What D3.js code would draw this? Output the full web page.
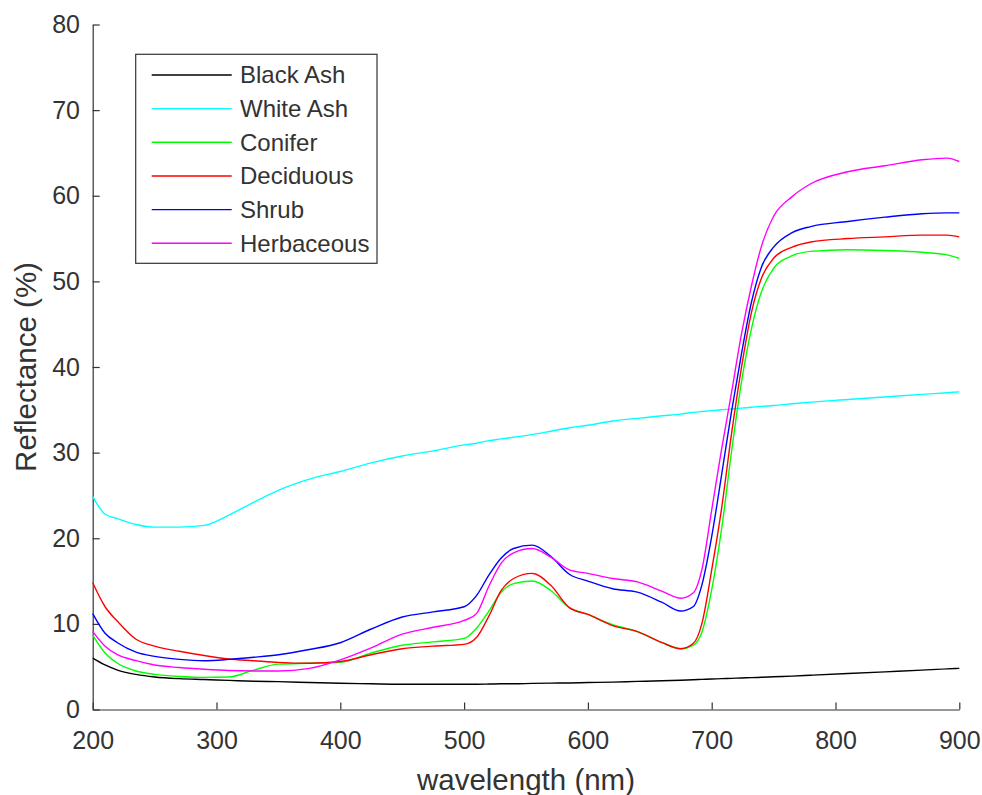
<!DOCTYPE html>
<html>
<head>
<meta charset="utf-8">
<script src="https://cdn.jsdelivr.net/npm/d3@7"></script>
<style>
  body { margin: 0; background: #fff; }
  .canva { width: 982px; height: 795px; }
  text { font-family: "Liberation Sans", Arial, sans-serif; fill: #333333; }
</style>
</head>
<body>
<div class="canva"></div>
<script>

// wavelength grid (nm) shared by all series
const wavelength = [200, 210, 220, 235, 250, 270, 290, 310, 330, 350, 375, 400, 425, 450, 475, 500,
    510, 520, 530, 540, 555, 570, 585, 600, 620, 640, 660, 675, 685, 692, 700, 708, 716, 724, 732,
    740, 750, 765, 780, 810, 840, 870, 890, 900]

const blackAsh = [6.0, 5.2, 4.6, 4.1, 3.8, 3.6, 3.5, 3.4, 3.3, 3.25, 3.15, 3.06, 3.0, 2.95, 2.95, 2.95,
    2.95, 2.97, 3.0, 3.0, 3.05, 3.08, 3.1, 3.15, 3.2, 3.28, 3.35, 3.42, 3.48, 3.52, 3.56, 3.6, 3.64, 3.68, 3.72,
    3.76, 3.82, 3.9, 4.0, 4.2, 4.4, 4.6, 4.75, 4.8]

const whiteAsh = [24.9, 22.8, 22.3, 21.6, 21.3, 21.3, 21.5, 22.7, 24.2, 25.6, 26.9, 27.8, 28.8, 29.6, 30.2, 30.9,
    31.1, 31.4, 31.6, 31.8, 32.1, 32.5, 32.9, 33.2, 33.7, 34.0, 34.3, 34.5, 34.7, 34.8, 34.9, 35.0, 35.1, 35.2, 35.3,
    35.4, 35.5, 35.7, 35.9, 36.2, 36.5, 36.8, 37.0, 37.1]

const conifer = [8.7, 6.6, 5.4, 4.5, 4.1, 3.85, 3.75, 3.8, 4.6, 5.3, 5.4, 5.5, 6.6, 7.5, 7.9, 8.3,
    9.5, 11.5, 13.7, 14.7, 15.0, 13.9, 11.9, 11.1, 9.9, 9.1, 7.8, 7.1, 7.5, 9.0, 14.0, 21.1, 30.1, 38.2, 44.4,
    48.7, 51.5, 53.0, 53.5, 53.7, 53.6, 53.4, 53.1, 52.7]

const deciduous = [14.8, 12.0, 10.3, 8.2, 7.4, 6.8, 6.3, 5.9, 5.7, 5.5, 5.4, 5.6, 6.4, 7.1, 7.4, 7.6,
    8.4, 10.9, 13.9, 15.3, 15.9, 14.5, 11.9, 11.1, 9.8, 9.1, 7.8, 7.1, 7.7, 10.0, 16.3, 23.5, 32.2, 39.9, 46.3,
    50.3, 52.7, 54.0, 54.6, 55.0, 55.2, 55.4, 55.4, 55.2]

const shrub = [11.2, 8.9, 7.8, 6.7, 6.2, 5.85, 5.7, 5.85, 6.1, 6.4, 7.0, 7.8, 9.4, 10.8, 11.4, 12.0,
    13.3, 15.7, 17.7, 18.8, 19.2, 17.9, 15.8, 15.0, 14.1, 13.7, 12.5, 11.5, 12.0, 14.5, 20.2, 27.4, 34.8, 41.5, 47.5,
    51.6, 54.0, 55.7, 56.4, 57.0, 57.5, 57.9, 58.0, 58.0]

const herbaceous = [9.1, 7.4, 6.4, 5.7, 5.2, 4.9, 4.7, 4.55, 4.5, 4.5, 4.8, 5.8, 7.2, 8.8, 9.6, 10.4,
    11.2, 14.4, 17.1, 18.3, 18.8, 17.8, 16.3, 15.9, 15.3, 14.9, 13.8, 13.0, 13.6, 16.3, 23.3, 30.4, 37.0, 43.8, 49.4,
    54.0, 57.6, 59.9, 61.4, 62.8, 63.5, 64.2, 64.4, 64.0]

const names = ["Black Ash", "White Ash", "Conifer", "Deciduous", "Shrub", "Herbaceous"]
const colors = ["#000000", "#00ffff", "#00ff00", "#ff0000", "#0000ff", "#ff00ff"]
const xTicks = [200, 300, 400, 500, 600, 700, 800, 900]
const yTicks = [0, 10, 20, 30, 40, 50, 60, 70, 80]

const series = [blackAsh, whiteAsh, conifer, deciduous, shrub, herbaceous]

function render() {
    const svg = d3.select('.canva').append('svg')
        .attr('width', 982)
        .attr('height', 795)

    const x = d3.scaleLinear().domain([200, 900]).range([92.7, 959.3])
    const y = d3.scaleLinear().domain([0, 80]).range([709.5, 24.5])

    // axes, ticks pointing inward like matlab
    const xAxis = svg.append('g')
        .attr('transform', 'translate(0,709.5)')
        .call(d3.axisBottom(x).tickValues(xTicks).tickSizeInner(-7).tickSizeOuter(0).tickPadding(22))
    const yAxis = svg.append('g')
        .attr('transform', 'translate(92.7,0)')
        .call(d3.axisLeft(y).tickValues(yTicks).tickSizeInner(-7).tickSizeOuter(0).tickPadding(12.7))

    for (const ax of [xAxis, yAxis]) {
        ax.selectAll('path, line').attr('stroke', '#333333').attr('stroke-width', 1.2)
        ax.selectAll('text').attr('font-size', 25).attr('fill', '#404040')
            .attr('font-family', '"Liberation Sans", Arial, sans-serif')
    }

    const line = d3.line()
        .x((d, i) => x(wavelength[i]))
        .y(d => y(d))
        .curve(d3.curveMonotoneX)

    svg.append('g').selectAll('path')
        .data(series)
        .enter().append('path')
        .attr('d', line)
        .attr('fill', 'none')
        .attr('stroke', (d, i) => colors[i])
        .attr('stroke-width', 1.4)

    // axis labels
    svg.append('text')
        .attr('x', x(550))
        .attr('y', 790)
        .attr('text-anchor', 'middle')
        .attr('font-size', 29.5)
        .text('wavelength (nm)')

    svg.append('text')
        .attr('transform', 'translate(36,' + y(40) + ') rotate(-90)')
        .attr('text-anchor', 'middle')
        .attr('font-size', 29.5)
        .text('Reflectance (%)')

    // legend
    const legend = svg.append('g')
    legend.append('rect')
        .attr('x', 135.7).attr('y', 54.3)
        .attr('width', 241.3).attr('height', 209)
        .attr('fill', '#fff')
        .attr('stroke', '#333333')
        .attr('stroke-width', 1.2)

    const rows = legend.selectAll('g.row')
        .data(names)
        .enter().append('g')
        .attr('class', 'row')
        .attr('transform', (d, i) => 'translate(0,' + (75 + i * 33.66) + ')')
    rows.append('line')
        .attr('x1', 151.7).attr('x2', 231.7)
        .attr('stroke', (d, i) => colors[i])
        .attr('stroke-width', 1.4)
    rows.append('text')
        .attr('x', 240)
        .attr('dy', '0.35em')
        .attr('font-size', 24)
        .attr('fill', '#262626')
        .text(d => d)
}

render()
</script>
</body>
</html>
